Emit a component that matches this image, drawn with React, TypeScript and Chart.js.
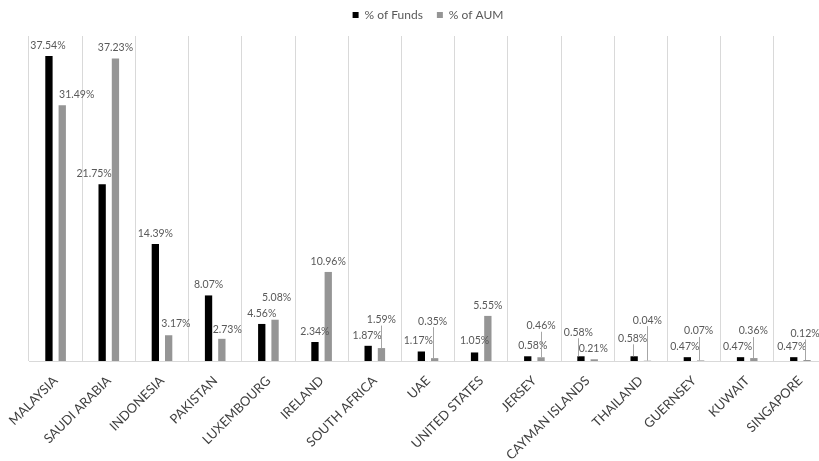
import React, { useEffect, useRef } from "react";
import { Chart, registerables } from "chart.js";

Chart.register(...registerables);

// Domicile of Islamic funds: share of fund count and share of assets under management
const countries = [
  "MALAYSIA",
  "SAUDI ARABIA",
  "INDONESIA",
  "PAKISTAN",
  "LUXEMBOURG",
  "IRELAND",
  "SOUTH AFRICA",
  "UAE",
  "UNITED STATES",
  "JERSEY",
  "CAYMAN ISLANDS",
  "THAILAND",
  "GUERNSEY",
  "KUWAIT",
  "SINGAPORE",
];

const pctFunds = [37.54, 21.75, 14.39, 8.07, 4.56, 2.34, 1.87, 1.17, 1.05, 0.58, 0.58, 0.58, 0.47, 0.47, 0.47];
const pctAum = [31.49, 37.23, 3.17, 2.73, 5.08, 10.96, 1.59, 0.35, 5.55, 0.46, 0.21, 0.04, 0.07, 0.36, 0.12];

const axisMax = 40;

// Hand-placed value labels: [dx, dy, draw leader line]
type Shift = [number, number, boolean?];
const fundsLabelShift: Shift[] = [
  [-1, 0], [-8, 0], [0, 0], [0, 0], [0, 0], [0, 0], [-1, 0], [-3, 0],
  [0, -1], [5, 0], [-2.5, -13.5, true], [-1.5, -7.5, true], [-2.5, 0], [-3, 0], [-2, 0],
];
const aumLabelShift: Shift[] = [
  [14.5, 0], [0, 0], [7.3, -1.5], [5.4, 1.5], [1.5, -12], [0, 0], [0, -18, true],
  [-2, -26.5, true], [0, 0], [0, -21, true], [-1, 0], [0, -30, true], [-2, -19, true],
  [-0.5, -16.5, true], [-2, -16, true],
];

const FONT = "Lato, 'Open Sans', sans-serif";
const TEXT = "#595959";

const valueLabels = {
  id: "valueLabels",
  afterDatasetsDraw(chart: any) {
    const ctx = chart.ctx as CanvasRenderingContext2D;
    ctx.save();
    ctx.font = `10.5px ${FONT}`;
    ctx.textAlign = "center";
    ctx.textBaseline = "middle";
    chart.data.datasets.forEach((ds: any, di: number) => {
      const meta = chart.getDatasetMeta(di);
      const shifts = di === 0 ? fundsLabelShift : aumLabelShift;
      meta.data.forEach((bar: any, i: number) => {
        const v = ds.data[i] as number;
        const [dx, dy, leader] = shifts[i];
        const x = bar.x + dx;
        const y = bar.y - 10.5 + dy;
        if (leader) {
          const lx = Math.round(x) + 0.5;
          ctx.strokeStyle = "#a6a6a6";
          ctx.lineWidth = 1;
          ctx.beginPath();
          ctx.moveTo(lx, y + 6);
          ctx.lineTo(lx, bar.y);
          ctx.stroke();
        }
        ctx.fillStyle = TEXT;
        ctx.fillText(v.toFixed(2) + "%", x, y);
      });
    });
    ctx.restore();
  },
};

export default function App() {
  const canvasRef = useRef<HTMLCanvasElement | null>(null);

  useEffect(() => {
    if (!canvasRef.current) return;
    const chart = new Chart(canvasRef.current, {
      type: "bar",
      data: {
        labels: countries,
        datasets: [
          {
            label: "% of Funds",
            data: pctFunds,
            backgroundColor: "#000000",
            categoryPercentage: 0.5,
            barPercentage: 0.55,
          },
          {
            label: "% of AUM",
            data: pctAum,
            backgroundColor: "#959595",
            categoryPercentage: 0.5,
            barPercentage: 0.55,
          },
        ],
      },
      options: {
        animation: false,
        responsive: false,
        layout: { padding: { left: 29, right: 13, top: -5, bottom: 0 } },
        plugins: {
          legend: {
            position: "top",
            labels: {
              boxWidth: 6,
              boxHeight: 6,
              padding: 14,
              color: TEXT,
              font: { family: FONT, size: 12 },
            },
          },
          title: {
            display: true,
            text: " ",
            weight: 500,
            color: "rgba(0,0,0,0)",
            font: { size: 5, lineHeight: 1 },
            padding: 0,
          } as any,
          tooltip: { enabled: false },
        },
        scales: {
          x: {
            grid: { color: "#d9d9d9", drawTicks: false, offset: true },
            border: { color: "#d9d9d9" },
            ticks: {
              autoSkip: false,
              maxRotation: 45,
              minRotation: 45,
              color: "#404040",
              padding: 12,
              font: { family: FONT, size: 13 },
            },
            afterFit(scale: any) {
              scale.height = 100;
              scale.paddingLeft = 0;
              scale.paddingRight = 0;
            },
          },
          y: { display: false, min: 0, max: axisMax },
        },
      },
      plugins: [valueLabels],
    });
    return () => chart.destroy();
  }, []);

  return (
    <div
      style={{
        position: "fixed",
        left: 0,
        top: 0,
        width: 819,
        height: 461,
        overflow: "hidden",
        background: "#ffffff",
      }}
    >
      <canvas ref={canvasRef} width={840} height={461} style={{ display: "block", width: 840, height: 461 }} />
    </div>
  );
}
